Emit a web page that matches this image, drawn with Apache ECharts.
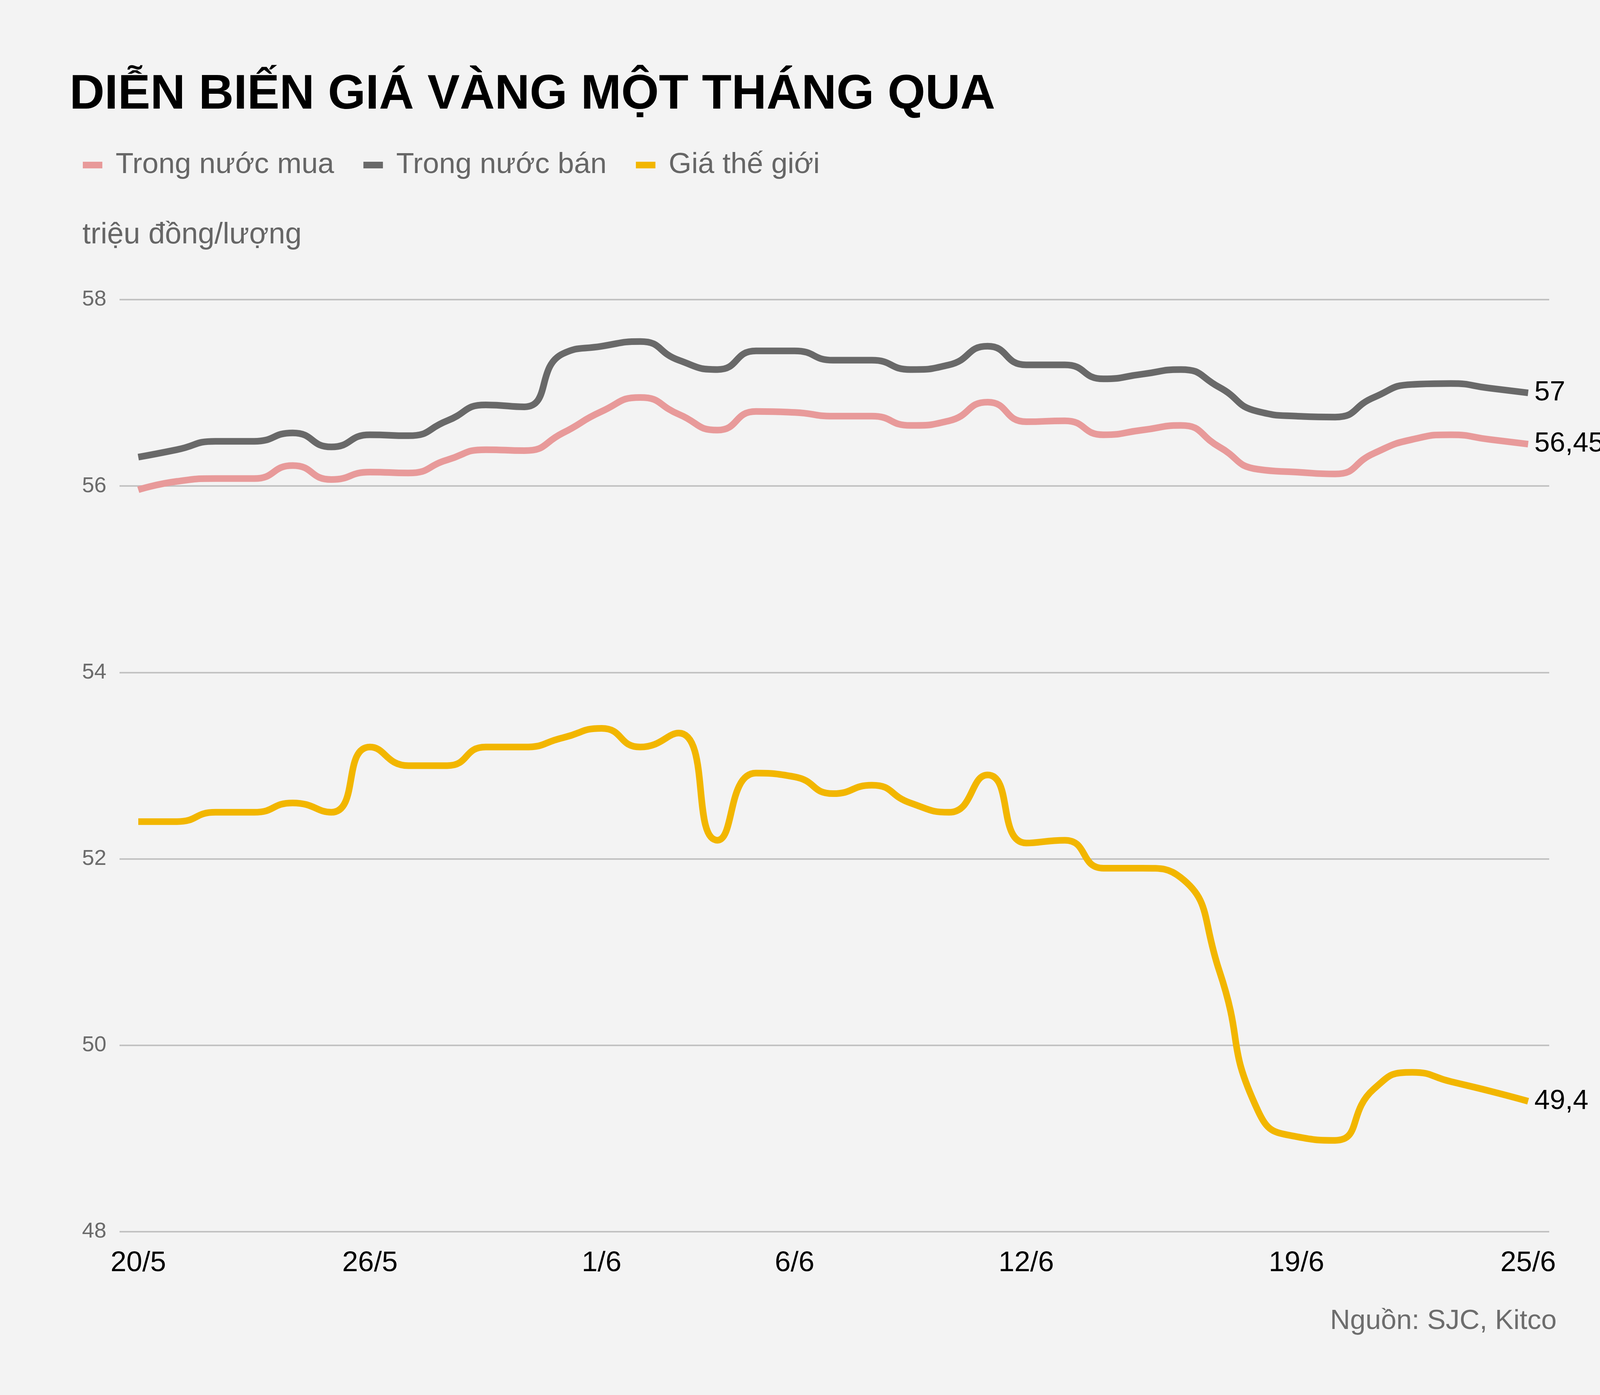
<!DOCTYPE html>
<html>
<head>
<meta charset="utf-8">
<script src="https://cdn.jsdelivr.net/npm/echarts@6/dist/echarts.min.js"></script>
<style>
html,body{margin:0;padding:0;background:#f3f3f3;}
#chart{width:4179px;height:3571px;}
</style>
</head>
<body>
<div id="chart"></div>
<script>
const categories = ['20/5','21/5','22/5','23/5','24/5','25/5','26/5','27/5','28/5','29/5','30/5','31/5',
  '1/6','2/6','3/6','4/6','5/6','6/6','7/6','8/6','9/6','10/6','11/6','12/6','13/6','14/6','15/6','16/6',
  '17/6','18/6','19/6','20/6','21/6','22/6','23/6','24/6','25/6'];
const shownLabels = ['20/5','26/5','1/6','6/6','12/6','19/6','25/6'];
const yTicks = [48, 50, 52, 54, 56, 58];
const buyDomestic = [55.96,56.05,56.08,56.08,56.22,56.07,56.15,56.14,56.28,56.39,56.38,56.57,
  56.80,56.95,56.77,56.60,56.80,56.79,56.75,56.75,56.65,56.70,56.90,56.69,56.70,56.55,56.60,56.65,
  56.42,56.18,56.15,56.13,56.35,56.50,56.55,56.50,56.45];
const sellDomestic = [56.31,56.39,56.48,56.48,56.57,56.42,56.55,56.54,56.70,56.87,56.85,57.42,
  57.50,57.55,57.35,57.25,57.45,57.45,57.35,57.35,57.25,57.30,57.50,57.30,57.30,57.15,57.20,57.25,
  57.06,56.80,56.75,56.74,56.95,57.09,57.10,57.05,57.00];
const worldPrice = [52.40,52.40,52.50,52.50,52.60,52.50,53.20,53.00,53.00,53.20,53.20,53.30,
  53.40,53.20,53.35,52.20,52.92,52.88,52.70,52.79,52.60,52.50,52.90,52.17,52.20,51.90,51.90,51.80,
  50.80,49.30,49.02,48.98,49.53,49.71,49.61,49.51,49.40];
const seriesNames = ['Trong nước mua', 'Trong nước bán', 'Giá thế giới'];
const seriesColors = ['#e89a9a', '#696969', '#f2b600'];
const titleText = 'DIỄN BIẾN GIÁ VÀNG MỘT THÁNG QUA';
const unitText = 'triệu đồng/lượng';
const sourceText = 'Nguồn: SJC, Kitco';

const FONT = '"Liberation Sans", Arial, sans-serif';
const fmt = v => String(v).replace('.', ',');
const yMin = yTicks[0], yMax = yTicks[yTicks.length - 1], yStep = yTicks[1] - yTicks[0];

const chart = echarts.init(document.getElementById('chart'), null, {renderer: 'canvas', devicePixelRatio: 1});

function lineSeries(idx, data) {
  return {
    name: seriesNames[idx],
    type: 'line',
    xAxisIndex: 1,
    yAxisIndex: 1,
    data: data,
    smooth: 0.55,
    showSymbol: false,
    symbol: 'none',
    color: seriesColors[idx],
    lineStyle: {width: 17, color: seriesColors[idx], join: 'round'},
    endLabel: {
      show: true,
      formatter: p => fmt(p.value),
      distance: 16,
      fontSize: 71,
      color: '#000',
      fontFamily: FONT
    },
    z: 10 - idx
  };
}

const option = {
  backgroundColor: '#f3f3f3',
  animation: false,
  title: [
    {text: titleText, left: 173, top: 177,
     textStyle: {fontSize: 124, fontWeight: 'bold', color: '#000', fontFamily: FONT}},
    {text: unitText, left: 206, top: 559,
     textStyle: {fontSize: 76, fontWeight: 'normal', color: '#666', fontFamily: FONT}},
    {text: sourceText, right: 189, top: 3342,
     textStyle: {fontSize: 71, fontWeight: 'normal', color: '#6d6d6d', fontFamily: FONT}}
  ],
  legend: {
    left: 207, top: 380,
    icon: 'rect',
    itemWidth: 50, itemHeight: 17,
    itemGap: 75,
    data: seriesNames,
    textStyle: {fontSize: 75, color: '#666', fontFamily: FONT, padding: [0, 0, 0, 29]}
  },
  grid: [
    {left: 306, right: 213, top: 767, bottom: 418, containLabel: false},
    {left: 354, right: 267, top: 767, bottom: 418, containLabel: false}
  ],
  xAxis: [
    {type: 'value', gridIndex: 0, min: 0, max: 1, show: false},
    {type: 'category', gridIndex: 1, data: categories, boundaryGap: false,
     axisLine: {show: false}, axisTick: {show: false}, splitLine: {show: false},
     axisLabel: {
       interval: (i, v) => shownLabels.includes(v),
       margin: 44, fontSize: 73, color: '#000', fontFamily: FONT, hideOverlap: false
     }}
  ],
  yAxis: [
    {type: 'value', gridIndex: 0, min: yMin, max: yMax, interval: yStep,
     axisLine: {show: false}, axisTick: {show: false},
     axisLabel: {margin: 96, align: 'left', fontSize: 56, color: '#6b6b6b', fontFamily: FONT},
     splitLine: {show: true, lineStyle: {color: '#c2c2c2', width: 4}}},
    {type: 'value', gridIndex: 1, min: yMin, max: yMax, interval: yStep, show: false,
     splitLine: {show: false}}
  ],
  series: [
    lineSeries(0, buyDomestic),
    lineSeries(1, sellDomestic),
    lineSeries(2, worldPrice)
  ]
};
chart.setOption(option);
</script>
</body>
</html>
